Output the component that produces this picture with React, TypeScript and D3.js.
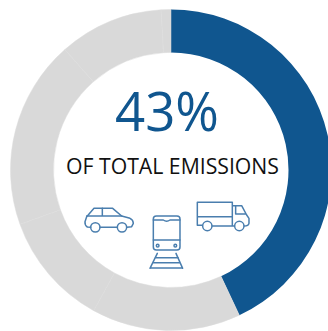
import React from "react";
import * as d3 from "d3";

// Share of total emissions by sector; the first slice is transport.
const sectors = ["Transport", "Sector B", "Sector C", "Sector D", "Sector E", "Sector F"];
const shares = [43, 15, 11.5, 19, 10.5, 1];
const sliceColors = ["#10568f", "#d9d9d9", "#d9d9d9", "#d9d9d9", "#d9d9d9", "#d9d9d9"];
const headline = "43%";
const caption = "OF TOTAL EMISSIONS";

const WIDTH = 328;
const HEIGHT = 331;
const CX = 171;
const CY = 170;
const OUTER = 160.5;
const INNER = 117.5;

const ICON = "#4a7eae";

function CarIcon() {
  return (
    <g>
      <path d="M62 112 L52 111 Q44 106 45 95 L50 80 L72 55 L128 55 L155 78 L180 85 Q190 90 190 100 L185 110 L171 112" />
      <path d="M50 78 L155 78 M97 55 L97 78 M90 112 L142 112" />
      <circle cx={76} cy={112} r={14} />
      <circle cx={156} cy={112} r={14} />
    </g>
  );
}

function TrainIcon() {
  return (
    <g>
      <rect x={250} y={78} width={80} height={102} rx={9} />
      <path d="M250 90 L280 90 Q290 97 300 90 L330 90 M250 150 L330 150" />
      <circle cx={263} cy={167} r={4} />
      <circle cx={316} cy={167} r={4} />
      <path d="M262 190 L240 235 M318 190 L338 235 M255 203 L325 203 M250 218 L330 218 M243 234 L336 234" />
    </g>
  );
}

function TruckIcon() {
  return (
    <g>
      <path d="M397 106 L382 106 L382 37 L487 37 L487 106 M382 80 L487 80 M427 108 L493 108" />
      <path d="M490 47 L515 47 L530 75 L537 85 L537 100 Q535 108 523 108 M497 47 L497 72 L526 72" />
      <circle cx={412} cy={108} r={14} />
      <circle cx={508} cy={108} r={14} />
    </g>
  );
}

export default function App() {
  const pie = d3.pie<number>().sort(null).value((d) => d);
  const arc = d3.arc<d3.PieArcDatum<number>>().innerRadius(INNER).outerRadius(OUTER);
  const slices = pie(shares);

  return (
    <svg
      width={WIDTH}
      height={HEIGHT}
      viewBox={`0 0 ${WIDTH} ${HEIGHT}`}
      style={{ position: "absolute", left: 0, top: 0, background: "#fff" }}
    >
      <g transform={`translate(${CX},${CY})`}>
        {slices.map((s, i) => (
          <path
            key={sectors[i]}
            d={arc(s) ?? ""}
            fill={sliceColors[i]}
            stroke={i === 0 ? "none" : "#dcdcdc"}
            strokeWidth={0.5}
          />
        ))}
      </g>
      <text
        x={167}
        y={131}
        textAnchor="middle"
        fontFamily="'Open Sans', sans-serif"
        fontWeight={400}
        fontSize={54}
        fill="#10568f"
        textLength={104}
        lengthAdjust="spacingAndGlyphs"
      >
        {headline}
      </text>
      <text
        x={172.5}
        y={174}
        textAnchor="middle"
        fontFamily="'Open Sans', sans-serif"
        fontSize={21}
        fill="#111"
        textLength={213}
        lengthAdjust="spacingAndGlyphs"
      >
        {caption}
      </text>
      <g
        transform="translate(70,190) scale(0.3333)"
        fill="none"
        stroke={ICON}
        strokeWidth={4.5}
        strokeLinejoin="round"
        strokeLinecap="round"
      >
        <CarIcon />
        <TrainIcon />
        <TruckIcon />
      </g>
    </svg>
  );
}
